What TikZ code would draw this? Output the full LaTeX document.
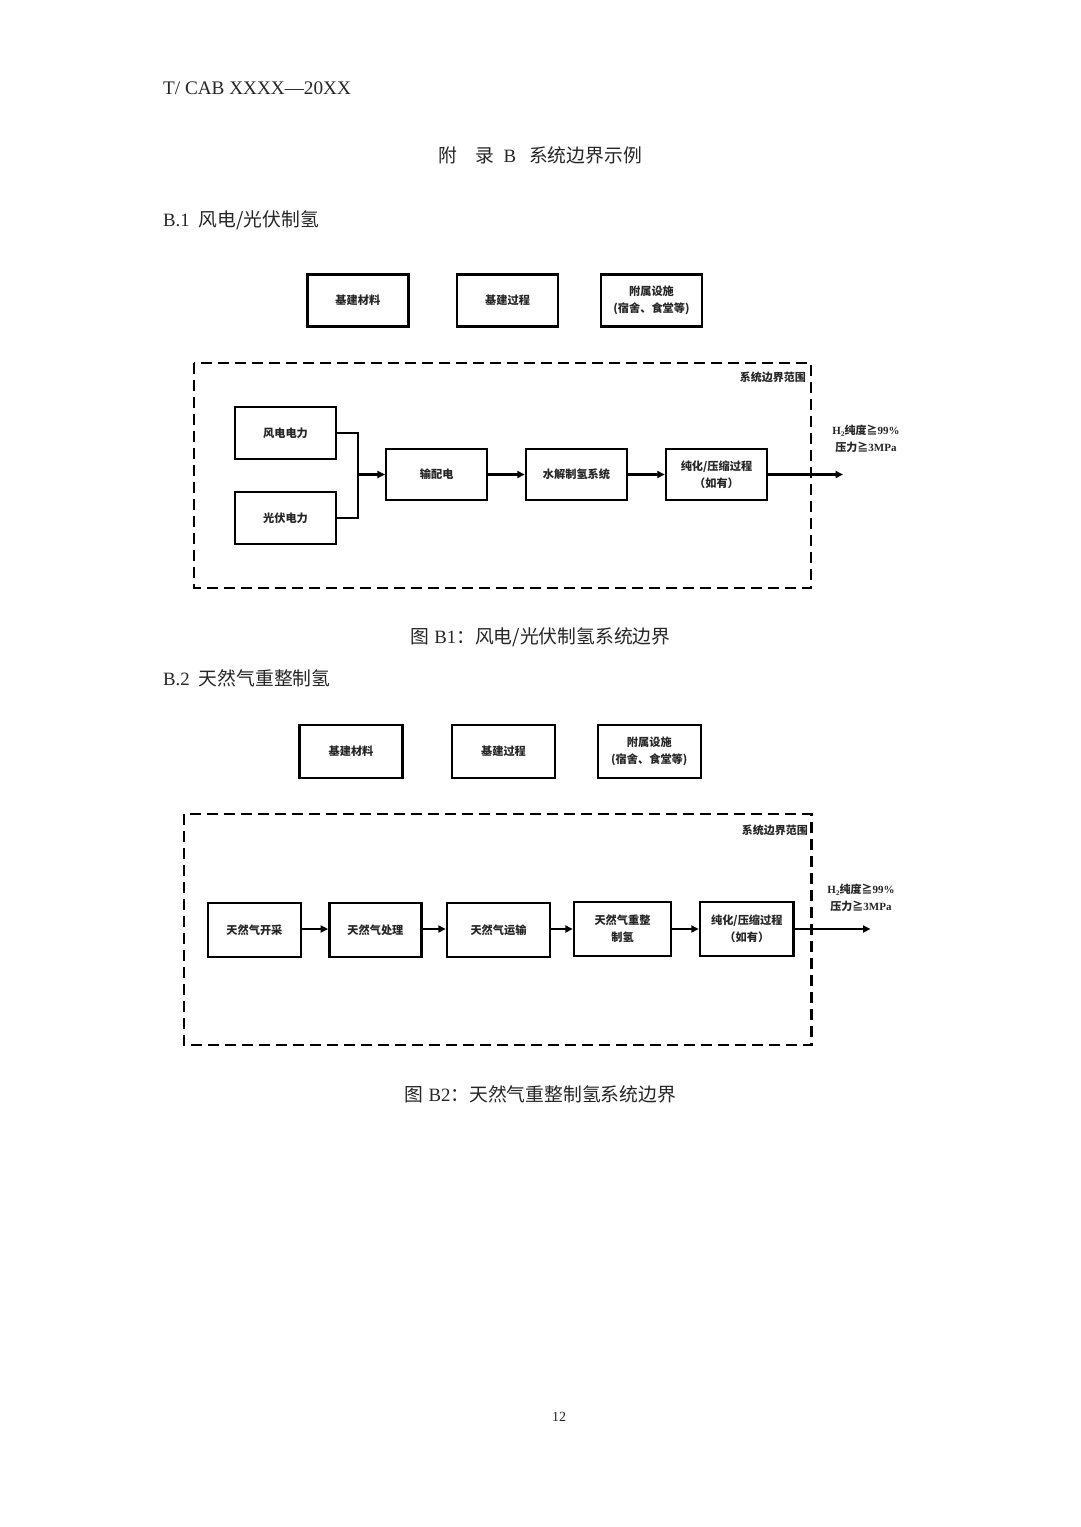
\documentclass[tikz,border=0pt]{standalone}
\usepackage{fontspec}
\setmainfont{Liberation Serif}
\newfontfamily\cjk{Noto Sans CJK SC}
\usetikzlibrary{arrows.meta}
\definecolor{txt}{gray}{0.15}
\tikzset{
  box/.style={draw=black, line width=2.5pt, align=center, inner sep=0pt,
    font=\cjk\bfseries\fontsize{11.2}{17}\selectfont, text=txt},
  flow/.style={line width=2.2pt, -{Triangle[length=7.5pt,width=7pt]}},
  link/.style={line width=2.2pt},
  bound/.style={draw=black, line width=2.5pt, dash pattern=on 11pt off 6pt},
  bndlabel/.style={anchor=east, inner sep=0pt, font=\cjk\bfseries\fontsize{11}{13}\selectfont, text=txt},
  outlabel/.style={align=center, inner sep=0pt, font=\bfseries\fontsize{11}{17.5}\selectfont, text=txt},
  head/.style={inner sep=0pt, font=\fontsize{18.8}{22}\selectfont, text=txt}
}
\newcommand{\Htwo}{H\raisebox{-0.35ex}{\fontsize{7}{7}\selectfont 2}}
\begin{document}
\begin{tikzpicture}[x=1pt,y=-1pt]
\useasboundingbox[fill=white] (0,0) rectangle (1080,1527);

% page texts
\node[head, anchor=west, font=\fontsize{19.2}{22}\selectfont] (hdr) at (163,88) {T/ CAB XXXX—20XX};
\node[head] (title) at (540,155) {{\cjk 附}\hspace{19pt}{\cjk 录}\hspace{9pt}B\hspace{13pt}{\cjk 系统边界示例}};
\node[head, anchor=west] (s1) at (163,220) {B.1\hspace{9pt}{\cjk 风电/光伏制氢}};
\node[head] (cap1) at (540.5,637) {{\cjk 图}\hspace{5pt}B1{\cjk ：风电/光伏制氢系统边界}};
\node[head, anchor=west] (s2) at (163,678) {B.2\hspace{9pt}{\cjk 天然气重整制氢}};
\node[head] (cap2) at (540.5,1094) {{\cjk 图}\hspace{5pt}B2{\cjk ：天然气重整制氢系统边界}};
\node[inner sep=0pt, font=\fontsize{14}{16}\selectfont, text=txt] (pg) at (559,1417) {12};

% ---------- B1 ----------
\node[box, minimum width=101pt, minimum height=52pt] (a1) at (357.8,300.3) {基建材料};
\node[box, minimum width=101pt, minimum height=52pt] (a2) at (507.6,300.3) {基建过程};
\node[box, minimum width=101pt, minimum height=52pt] (a3) at (651.5,300.3) {附属设施\\(宿舍、食堂等)};

\draw[bound] (194,363) rectangle (811,588);
\node[bndlabel] (bl1) at (806,377) {系统边界范围};

\node[box, minimum width=101pt, minimum height=52pt] (wind) at (285.5,433) {风电电力};
\node[box, minimum width=101pt, minimum height=52pt] (pv) at (285.5,518) {光伏电力};
\node[box, minimum width=101pt, minimum height=51pt] (grid) at (436.7,474.5) {输配电};
\node[box, minimum width=101pt, minimum height=51pt] (elec) at (576.5,474.5) {水解制氢系统};
\node[box, minimum width=101pt, minimum height=51pt] (pur1) at (716.5,474.5) {纯化/压缩过程\\（如有）};
\coordinate (j1) at (358,474.5);
\coordinate (out1) at (843,474.5);

\draw[link] (wind.east) -| (j1);
\draw[link] (pv.east) -| (j1);
\draw[flow] (j1) -- (grid.west);
\draw[flow] (grid) -- (elec);
\draw[flow] (elec) -- (pur1);
\draw[flow] (pur1.east) -- (out1);
\node[outlabel] (o1) at (866,439) {\Htwo{\cjk 纯度≧}99\%\\{\cjk 压力≧}3MPa};

% ---------- B2 ----------
\node[box, minimum width=103pt, minimum height=53pt] (b1) at (351,751.5) {基建材料};
\node[box, minimum width=103pt, minimum height=53pt] (b2) at (503.5,751.5) {基建过程};
\node[box, minimum width=103pt, minimum height=53pt] (b3) at (649.3,751.5) {附属设施\\(宿舍、食堂等)};

\draw[bound] (184,814) rectangle (811.5,1045);
\node[bndlabel] (bl2) at (808,830) {系统边界范围};

\node[box, minimum width=92.7pt, minimum height=54pt] (n1) at (254.4,930) {天然气开采};
\node[box, minimum width=92pt, minimum height=54pt] (n2) at (375.4,930) {天然气处理};
\node[box, minimum width=103pt, minimum height=54pt] (n3) at (498.5,930) {天然气运输};
\node[box, minimum width=97pt, minimum height=54pt] (n4) at (622.5,929) {天然气重整\\制氢};
\node[box, minimum width=93.6pt, minimum height=54pt] (n5) at (746.8,929) {纯化/压缩过程\\（如有）};
\coordinate (out2) at (870.5,929);

\draw[flow] (n1.east |- 0,929) -- (n2.west |- 0,929);
\draw[flow] (n2.east |- 0,929) -- (n3.west |- 0,929);
\draw[flow] (n3.east |- 0,929) -- (n4.west |- 0,929);
\draw[flow] (n4) -- (n5);
\draw[flow] (n5.east) -- (out2);
\node[outlabel] (o2) at (861,898) {\Htwo{\cjk 纯度≧}99\%\\{\cjk 压力≧}3MPa};
\end{tikzpicture}
\end{document}
